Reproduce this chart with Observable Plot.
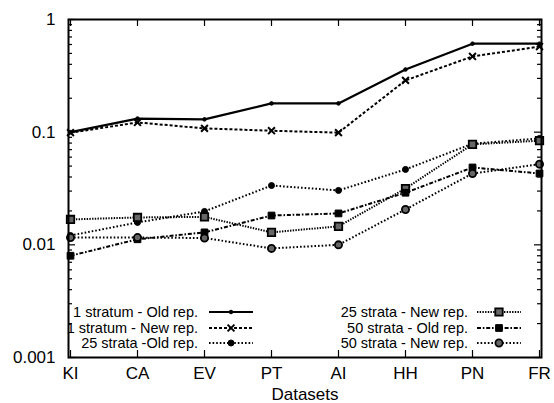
<!DOCTYPE html>
<html>
<head>
<meta charset="utf-8">
<script src="https://cdn.jsdelivr.net/npm/d3@7"></script>
<script src="https://cdn.jsdelivr.net/npm/@observablehq/plot@0.6"></script>
<style>
  html, body { margin: 0; padding: 0; background: #fff; }
  #chart { position: relative; width: 554px; height: 403px; }
  svg { font-family: "Liberation Sans", Arial, sans-serif; }
</style>
</head>
<body>
<div id="chart"></div>
<script>
// ---- data ----
const datasets = ["KI", "CA", "EV", "PT", "AI", "HH", "PN", "FR"];
const seriesNames = [
  "1 stratum - Old rep.",
  "1 stratum - New rep.",
  "25 strata -Old rep.",
  "25 strata - New rep.",
  "50 strata - Old rep.",
  "50 strata - New rep."
];
const oneStratumOld = [0.1, 0.132, 0.13, 0.18, 0.18, 0.36, 0.61, 0.61];
const oneStratumNew = [0.099, 0.122, 0.108, 0.103, 0.099, 0.288, 0.47, 0.575];
const strata25Old = [0.0121, 0.0158, 0.0198, 0.0336, 0.0304, 0.0467, 0.079, 0.088];
const strata25New = [0.0168, 0.0175, 0.0177, 0.0129, 0.0146, 0.0316, 0.078, 0.084];
const strata50Old = [0.008, 0.0112, 0.0129, 0.0182, 0.019, 0.029, 0.0486, 0.043];
const strata50New = [0.0116, 0.0116, 0.0115, 0.0093, 0.01, 0.0206, 0.043, 0.052];
const yTickValues = [0.001, 0.01, 0.1, 1];
const xLabel = "Datasets";

const allValues = [oneStratumOld, oneStratumNew, strata25Old, strata25New, strata50Old, strata50New];

// ---- styles ----
const styles = [
  {dash: null,          symbol: "circle",  r: 1.8, fill: "black", stroke: "black", sw: 1,   lw: 2.2},
  {dash: "3,2",         symbol: "times",   r: 3.2, fill: "none",  stroke: "black", sw: 2,   lw: 2},
  {dash: "1.6,2",       symbol: "circle",  r: 3,   fill: "black", stroke: "black", sw: 1,   lw: 2},
  {dash: "1.4,1.3",     symbol: "square",  r: 4.2, fill: "#666",  stroke: "black", sw: 1.8, lw: 2},
  {dash: "4,1.8,1.6,1.8", symbol: "square", r: 3.8, fill: "black", stroke: "black", sw: 1,  lw: 2},
  {dash: "1.6,2",       symbol: "circle",  r: 3.6, fill: "#666",  stroke: "black", sw: 1.8, lw: 2}
];

const W = 554, H = 403;
const mL = 68, mR = 13, mT = 19, mB = 46;
const plotW = W - mL - mR, plotH = H - mT - mB;

const rows = seriesNames.map((name, i) =>
  datasets.map((d, j) => ({series: name, dataset: d, value: allValues[i][j]})));

// minor ticks
const minorTicks = [];
for (const base of [0.001, 0.01, 0.1]) for (let k = 2; k <= 9; k++) minorTicks.push(+(base * k).toPrecision(3));

const marks = [
  // inward ticks
  Plot.ruleY(yTickValues, {y: d => d, insetRight: plotW - 7, strokeWidth: 1.2}),
  Plot.ruleY(yTickValues, {y: d => d, insetLeft: plotW - 7, strokeWidth: 1.2}),
  Plot.ruleY(minorTicks, {y: d => d, insetRight: plotW - 4, strokeWidth: 1.2}),
  Plot.ruleY(minorTicks, {y: d => d, insetLeft: plotW - 4, strokeWidth: 1.2}),
  Plot.ruleX(datasets, {x: d => d, insetTop: plotH - 7, strokeWidth: 1.2}),
  Plot.ruleX(datasets, {x: d => d, insetBottom: plotH - 7, strokeWidth: 1.2}),
  Plot.axisY({ticks: yTickValues, tickFormat: d => String(d), tickSize: 0, tickPadding: 13, fontSize: 17, fill: "black", label: null}),
  Plot.axisX({tickSize: 0, tickPadding: 9, fontSize: 17, fill: "black", label: null}),
  Plot.text([xLabel], {text: d => d, frameAnchor: "bottom", dy: 42, fontSize: 17, fill: "black"})
];

rows.forEach((data, i) => {
  const s = styles[i];
  marks.push(Plot.line(data, {x: "dataset", y: "value", stroke: "black", strokeWidth: s.lw, strokeDasharray: s.dash}));
});
rows.forEach((data, i) => {
  const s = styles[i];
  marks.push(Plot.dot(data, {x: "dataset", y: "value", symbol: s.symbol, r: s.r, fill: s.fill, stroke: s.stroke, strokeWidth: s.sw}));
});
marks.push(Plot.frame({stroke: "black", strokeWidth: 2}));

const chart = Plot.plot({
  width: W, height: H,
  marginLeft: mL, marginRight: mR, marginTop: mT, marginBottom: mB,
  x: {type: "point", domain: datasets, padding: 0, axis: null},
  y: {type: "log", domain: [0.001, 1], axis: null},
  style: {fontFamily: "'Liberation Sans', Arial, sans-serif", fontSize: "17px", color: "black", background: "white"},
  marks
});
document.getElementById("chart").appendChild(chart);

// make sure each series path carries its dash pattern
d3.select(chart).selectAll('g[aria-label="line"]').each(function(_, i) {
  const s = styles[i];
  if (!s) return;
  d3.select(this).selectAll("path").attr("stroke-dasharray", s.dash).attr("stroke-linecap", "butt");
});

// ---- legend ----
const svg = d3.select(chart);
const g = svg.append("g").attr("font-size", 14.5).attr("font-family", "'Liberation Sans', Arial, sans-serif");
const legendCols = [{textEnd: 198, lineStart: 209, lineEnd: 253}, {textEnd: 468, lineStart: 477, lineEnd: 521}];
const legendRows = [312, 328, 343];
seriesNames.forEach((name, i) => {
  const col = legendCols[Math.floor(i / 3)];
  const yy = legendRows[i % 3];
  const s = styles[i];
  g.append("text").attr("x", col.textEnd).attr("y", yy).attr("dy", "0.35em")
    .attr("text-anchor", "end").attr("fill", "black").text(name);
  g.append("line").attr("x1", col.lineStart).attr("x2", col.lineEnd).attr("y1", yy).attr("y2", yy)
    .attr("stroke", "black").attr("stroke-width", s.lw).attr("stroke-dasharray", s.dash);
  const size = s.r * s.r * Math.PI;
  const sym = {circle: d3.symbolCircle, times: d3.symbolTimes, square: d3.symbolSquare}[s.symbol];
  g.append("path").attr("transform", `translate(${(col.lineStart + col.lineEnd) / 2},${yy})`)
    .attr("d", d3.symbol(sym, size)()).attr("fill", s.fill).attr("stroke", s.stroke).attr("stroke-width", s.sw);
});
</script>
</body>
</html>
